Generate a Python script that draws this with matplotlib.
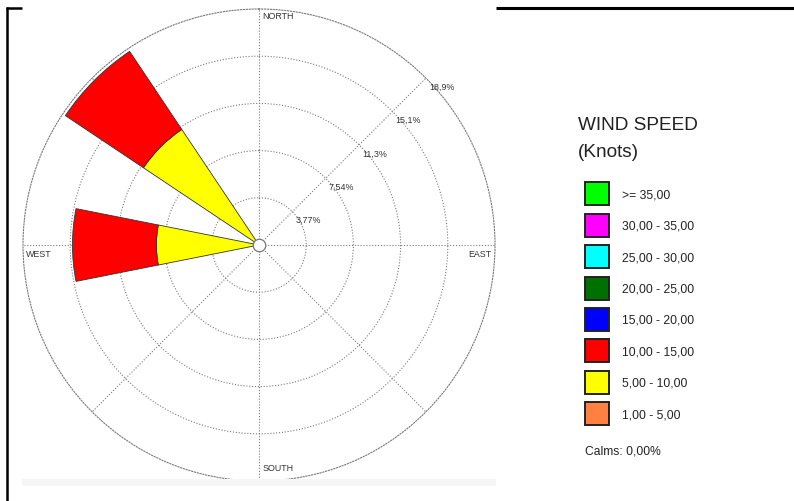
import numpy as np
import matplotlib.pyplot as plt
from matplotlib.patches import Rectangle
from matplotlib.lines import Line2D

plt.rcParams['font.family'] = ['Liberation Sans', 'DejaVu Sans']

# 16 compass sectors, frequency (%) per speed class
directions = ['N', 'NNE', 'NE', 'ENE', 'E', 'ESE', 'SE', 'SSE',
              'S', 'SSW', 'SW', 'WSW', 'W', 'WNW', 'NW', 'NNW']
dir_angles = np.arange(16) * 22.5

freq_1_5 = [0, 0, 0, 0, 0, 0, 0, 0, 0, 0, 0, 0, 0, 0, 0, 0]
freq_5_10 = [0, 0, 0, 0, 0, 0, 0, 0, 0, 0, 0, 0, 8.2, 0, 11.1, 0]
freq_10_15 = [0, 0, 0, 0, 0, 0, 0, 0, 0, 0, 0, 0, 6.7, 0, 7.5, 0]
freq_15_20 = [0, 0, 0, 0, 0, 0, 0, 0, 0, 0, 0, 0, 0, 0, 0, 0]
freq_20_25 = [0, 0, 0, 0, 0, 0, 0, 0, 0, 0, 0, 0, 0, 0, 0, 0]
freq_25_30 = [0, 0, 0, 0, 0, 0, 0, 0, 0, 0, 0, 0, 0, 0, 0, 0]
freq_30_35 = [0, 0, 0, 0, 0, 0, 0, 0, 0, 0, 0, 0, 0, 0, 0, 0]
freq_35_up = [0, 0, 0, 0, 0, 0, 0, 0, 0, 0, 0, 0, 0, 0, 0, 0]

speed_labels = ['1,00 - 5,00', '5,00 - 10,00', '10,00 - 15,00', '15,00 - 20,00',
                '20,00 - 25,00', '25,00 - 30,00', '30,00 - 35,00', '>= 35,00']
speed_colors = ['#ff8040', '#ffff00', '#ff0000', '#0000ff',
                '#007000', '#00ffff', '#ff00ff', '#00ff00']

ring_values = [3.77, 7.54, 11.31, 15.08, 18.85]
ring_labels = ['3,77%', '7,54%', '11,3%', '15,1%', '18,9%']
calms = '0,00%'

freqs = [freq_1_5, freq_5_10, freq_10_15, freq_15_20,
         freq_20_25, freq_25_30, freq_30_35, freq_35_up]

W, H = 794, 502
fig = plt.figure(figsize=(W / 100, H / 100), dpi=100)

# panel backdrop + frame lines
fig.add_artist(Rectangle((22 / W, 1 - 487 / H), 474 / W, 7 / H,
                         transform=fig.transFigure, color='#f6f6f6', lw=0))
fig.add_artist(Line2D([7 / W, 7 / W], [0, 1 - 7.6 / H], transform=fig.transFigure,
                      color='black', lw=1.8, solid_capstyle='butt'))
fig.add_artist(Line2D([6.2 / W, 22 / W], [1 - 8.5 / H] * 2, transform=fig.transFigure,
                      color='black', lw=1.8, solid_capstyle='butt'))
fig.add_artist(Line2D([496 / W, 1], [1 - 8.5 / H] * 2, transform=fig.transFigure,
                      color='black', lw=2.2, solid_capstyle='butt'))

cx, cy, R = 259, 246, 236
ax = fig.add_axes([(cx - R) / W, 1 - (cy + R) / H, 2 * R / W, 2 * R / H],
                  projection='polar')
ax.set_theta_zero_location('N')
ax.set_theta_direction(-1)
ax.set_ylim(0, ring_values[-1])
ax.set_axisbelow(True)

dots = (0, (1, 1.6))
ax.set_yticks(ring_values[:-1])
ax.set_yticklabels([])
ax.set_xticks(np.deg2rad(np.arange(0, 360, 45)))
ax.set_xticklabels([])
ax.grid(True, color='#7a7a7a', linestyle=dots, linewidth=0.8)
ax.spines['polar'].set_linestyle(dots)
ax.spines['polar'].set_color('#7a7a7a')
ax.spines['polar'].set_linewidth(0.8)

theta = np.deg2rad(dir_angles)
width = np.deg2rad(22.5)
bottom = np.zeros(16)
for vals, col in zip(freqs, speed_colors):
    vals = np.array(vals, dtype=float)
    m = vals > 0
    if m.any():
        ax.bar(theta[m], vals[m], width=width, bottom=bottom[m], color=col,
               edgecolor='#333333', linewidth=0.6, zorder=2)
    bottom += vals

ax.plot([0], [0], 'o', ms=9, mfc='white', mec='#777777', mew=0.9, zorder=5, clip_on=False)

# ring labels along the NE spoke
for r, lab in zip(ring_values, ring_labels):
    ax.annotate(lab, xy=(np.deg2rad(45), r), xytext=(11.5, -5.8), textcoords='offset points',
                ha='center', va='center', fontsize=6.4, color='#333333')

lab_kw = dict(textcoords='offset points', fontsize=6.4, color='#333333', va='center')
ax.annotate('NORTH', xy=(0, ring_values[-1]), xytext=(2.2, -5.0), ha='left', **lab_kw)
ax.annotate('SOUTH', xy=(np.pi, ring_values[-1]), xytext=(2.2, 9.8), ha='left', **lab_kw)
ax.annotate('WEST', xy=(np.deg2rad(270), ring_values[-1]), xytext=(2.0, -5.8), ha='left', **lab_kw)
ax.annotate('EAST', xy=(np.deg2rad(90), ring_values[-1]), xytext=(-2.9, -5.8), ha='right', **lab_kw)

# legend, drawn by hand (top entry = fastest class)
fig.text(578 / W, 1 - 130 / H, 'WIND SPEED', fontsize=13.7, color='#222222', va='baseline')
fig.text(578 / W, 1 - 157 / H, '(Knots)', fontsize=13.7, color='#222222', va='baseline')

fs = 8.7
for i, (lab, col) in enumerate(zip(speed_labels[::-1], speed_colors[::-1])):
    top = 183.3 + i * 31.4
    fig.add_artist(Rectangle((585 / W, 1 - (top + 23) / H), 24 / W, 23 / H,
                             transform=fig.transFigure, facecolor=col,
                             edgecolor='#222222', lw=1.4))
    fig.text(622 / W, 1 - (top + 12) / H, lab, fontsize=fs, color='#222222', va='center')

fig.text(585 / W, 1 - 452 / H, 'Calms: ' + calms, fontsize=fs, color='#222222', va='center')

fig.savefig('out.png', dpi=100)
